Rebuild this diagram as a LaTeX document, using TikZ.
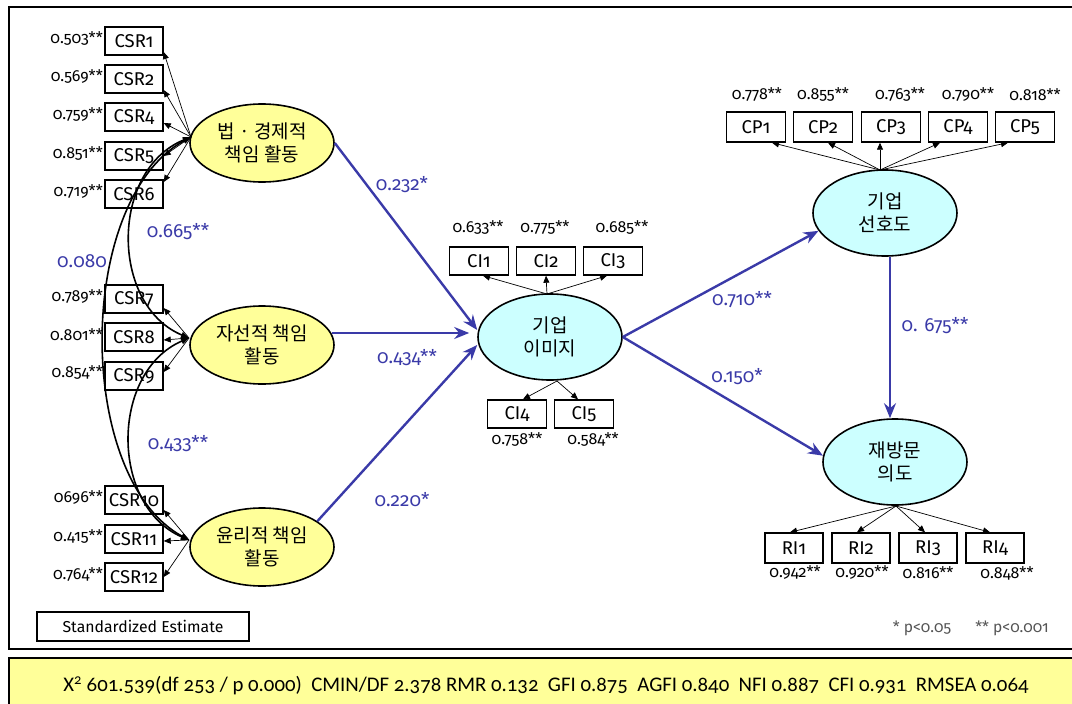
\documentclass[tikz,border=0pt]{standalone}
\usepackage{fontspec}
\setmainfont[Numbers=OldStyle]{Fira Sans}
\newfontfamily\kr{Noto Sans CJK KR}
\newfontfamily\barfont[Numbers=OldStyle]{Carlito}
\usetikzlibrary{shapes.geometric,arrows.meta,calc}
\definecolor{lyellow}{HTML}{FFFF99}
\definecolor{lcyan}{HTML}{CCFFFF}
\definecolor{pathblue}{HTML}{3A3AA8}
\definecolor{pgray}{HTML}{555555}
\begin{document}
\begin{tikzpicture}[x=1pt,y=-1pt,
  ind/.style={draw, line width=1.4pt, minimum width=58pt, minimum height=28pt, inner sep=0pt, font=\fontsize{18.5}{18.5}\selectfont},
  lat/.style={ellipse, draw, line width=1.6pt, minimum width=144pt, minimum height=78pt, inner sep=0pt, align=center, font=\kr\fontsize{19}{23}\selectfont},
  exo/.style={lat, fill=lyellow},
  endo/.style={lat, fill=lcyan, minimum height=86pt},
  ld/.style={font=\fontsize{16}{16}\selectfont, inner sep=0pt},
  bl/.style={font=\fontsize{19}{19}\selectfont, text=pathblue, inner sep=0pt},
  load/.style={-{Triangle[length=7pt,width=6pt]}, line width=0.7pt},
  cov/.style={{Triangle[length=8pt,width=6pt]}-{Triangle[length=8pt,width=6pt]}, line width=1.6pt},
  path/.style={-{Stealth[length=15pt,width=12pt,inset=5pt]}, line width=2.4pt, draw=pathblue}
]
\useasboundingbox (0,0) rectangle (1072,704);
% frame and bar
\draw[line width=2.2pt] (1090,7) -- (9,7) -- (9,649) -- (1090,649);
\fill[lyellow] (9,658) rectangle (1090,720);
\draw[line width=2pt] (9,720) -- (9,658) -- (1090,658);
\node[font=\barfont\fontsize{20.8}{21}\selectfont, inner sep=0pt] (fit) at (546,686) {X\textsuperscript{2} 601.539(df 253 / p 0.000)\ \ CMIN/DF 2.378 RMR 0.132\ \ GFI 0.875\ \ AGFI 0.840\ \ NFI 0.887\ \ CFI 0.931\ \ RMSEA 0.064};

% exogenous latents
\node[exo] (e1) at (262,143) {법 · 경제적\\책임 활동};
\node[exo] (e2) at (262,345) {자선적 책임\\활동};
\node[exo] (e3) at (262,547) {윤리적 책임\\활동};
\coordinate (e1p) at (191,137);
\coordinate (e2p) at (189,338);
\coordinate (e3p) at (189,540);

% CSR indicators
\node[ind] (c1) at (134,41) {CSR1};
\node[ind] (c2) at (134,79) {CSR2};
\node[ind] (c4) at (134,117) {CSR4};
\node[ind] (c5) at (134,156) {CSR5};
\node[ind] (c6) at (134,194) {CSR6};
\node[ind] (c7) at (134,299) {CSR7};
\node[ind] (c8) at (134,337) {CSR8};
\node[ind] (c9) at (134,376) {CSR9};
\node[ind] (c10) at (134,500) {CSR10};
\node[ind] (c11) at (134,539) {CSR11};
\node[ind] (c12) at (134,577) {CSR12};

\node[ld, anchor=east] (l1) at (103,39) {0.503**};
\node[ld, anchor=east] (l2) at (103,77) {0.569**};
\node[ld, anchor=east] (l4) at (103,115) {0.759**};
\node[ld, anchor=east] (l5) at (103,154) {0.851**};
\node[ld, anchor=east] (l6) at (103,192) {0.719**};
\node[ld, anchor=east] (l7) at (103,297) {0.789**};
\node[ld, anchor=east] (l8) at (103,335) {0.801**};
\node[ld, anchor=east] (l9) at (103,373) {0.854**};
\node[ld, anchor=east] (l10) at (103,498) {0696**};
\node[ld, anchor=east] (l11) at (103,537) {0.415**};
\node[ld, anchor=east] (l12) at (103,575) {0.764**};

\draw[load] (e1p) -- ([yshift=-11pt]c1.east);
\draw[load] (e1p) -- ([yshift=-11pt]c2.east);
\draw[load] (e1p) -- ([yshift=-6pt]c4.east);
\draw[load] (e1p) -- (c5.east);
\draw[load] (e1p) -- ([yshift=12pt]c6.east);
\draw[load] (e2p) -- ([yshift=-9pt]c7.east);
\draw[load] (e2p) -- ([yshift=-3pt]c8.east);
\draw[load] (e2p) -- ([yshift=4pt]c9.east);
\draw[load] (e3p) -- ([yshift=-10pt]c10.east);
\draw[load] (e3p) -- ([yshift=-2pt]c11.east);
\draw[load] (e3p) -- (c12.east);

% covariances
\draw[cov] (e1p) .. controls (110,170) and (110,305) .. (e2p);
\draw[cov] (e2p) .. controls (110,372) and (110,506) .. (e3p);
\draw[cov] (e1p) .. controls (75,200) and (75,478) .. (e3p);
\node[bl] (k12) at (178,232) {0.665**};
\node[bl] (k13) at (82,261) {0.080};
\node[bl] (k23) at (178,444) {0.433**};

% corporate image
\node[endo] (ci) at (550,337) {기업\\이미지};
\node[ind, minimum width=59pt] (ci1) at (479,261) {CI1};
\node[ind, minimum width=59pt] (ci2) at (546,261) {CI2};
\node[ind, minimum width=59pt] (ci3) at (613,261) {CI3};
\node[ind, minimum width=59pt] (ci4) at (517,414) {CI4};
\node[ind, minimum width=59pt] (ci5) at (584,414) {CI5};
\node[ld] (lci1) at (478,228) {0.633**};
\node[ld] (lci2) at (545,228) {0.775**};
\node[ld] (lci3) at (622,228) {0.685**};
\node[ld] (lci4) at (517,440) {0.758**};
\node[ld] (lci5) at (593,440) {0.584**};
\coordinate (cit) at (547,294);
\coordinate (cib) at (557,381);
\draw[load] (cit) -- ([xshift=4pt]ci1.south);
\draw[load] (cit) -- (ci2.south);
\draw[load] (cit) -- ([xshift=-6pt]ci3.south);
\draw[load] (cib) -- ([xshift=6pt]ci4.north);
\draw[load] (cib) -- ([xshift=-6pt]ci5.north);

% preference
\node[endo] (cp) at (885,213) {기업\\선호도};
\node[ind, minimum width=59pt, minimum height=30pt] (cp1) at (756,127) {CP1};
\node[ind, minimum width=59pt, minimum height=30pt] (cp2) at (823,127) {CP2};
\node[ind, minimum width=59pt, minimum height=30pt] (cp3) at (891,127) {CP3};
\node[ind, minimum width=59pt, minimum height=30pt] (cp4) at (958,127) {CP4};
\node[ind, minimum width=59pt, minimum height=30pt] (cp5) at (1025,127) {CP5};
\node[ld] (lcp1) at (757,95) {0.778**};
\node[ld] (lcp2) at (823,95) {0.855**};
\node[ld] (lcp3) at (900,95) {0.763**};
\node[ld] (lcp4) at (968,95) {0.790**};
\node[ld] (lcp5) at (1035,95) {0.818**};
\coordinate (cpt) at (880,170);
\draw[load] (cpt) -- ([xshift=16pt]cp1.south);
\draw[load] (cpt) -- ([xshift=5pt]cp2.south);
\draw[load] (cpt) -- ([xshift=-11pt]cp3.south);
\draw[load] (cpt) -- ([xshift=-18pt]cp4.south);
\draw[load] (cpt) -- ([xshift=-17pt]cp5.south);

% revisit
\node[endo] (ri) at (895,462) {재방문\\의도};
\node[ind, minimum height=30pt] (ri1) at (794,548) {RI1};
\node[ind, minimum height=30pt] (ri2) at (861,548) {RI2};
\node[ind, minimum height=30pt] (ri3) at (928,548) {RI3};
\node[ind, minimum height=30pt] (ri4) at (995,548) {RI4};
\node[ld] (lri1) at (795,573) {0.942**};
\node[ld] (lri2) at (862,573) {0.920**};
\node[ld] (lri3) at (928,573) {0.816**};
\node[ld] (lri4) at (1007,573) {0.848**};
\coordinate (rib) at (896,506);
\draw[load] (rib) -- ([xshift=-4pt]ri1.north);
\draw[load] (rib) -- ([xshift=-4pt]ri2.north);
\draw[load] (rib) -- ([xshift=-3pt]ri3.north);
\draw[load] (rib) -- ([xshift=-5pt]ri4.north);

% structural paths
\draw[path] (e1.east) -- ([yshift=7pt]ci.west);
\draw[path] ([xshift=-3pt,yshift=12pt]e2.east) -- ([xshift=-8pt,yshift=4pt]ci.west);
\draw[path] (e3.25) -- ([yshift=-8pt]ci.west);
\draw[path] (ci.east) -- (cp.195);
\draw[path] (ci.east) -- (ri.175);
\draw[path] ([xshift=5pt]cp.south) -- ([xshift=-5pt]ri.north);
\node[bl] (p1) at (402,185) {0.232*};
\node[bl] (p2) at (407,358) {0.434**};
\node[bl] (p3) at (402,500) {0.220*};
\node[bl] (p4) at (742,300) {0.710**};
\node[bl] (p5) at (737,377) {0.150*};
\node[bl] (p6) at (935,326) {0. 675**};

% legend
\node[draw, line width=2pt, minimum width=212pt, minimum height=29pt, inner sep=0pt, font=\fontsize{15.8}{16}\selectfont] (se) at (143,626) {Standardized Estimate};
\node[font=\fontsize{15.6}{16}\selectfont, text=pgray, inner sep=0pt] (s1) at (922,628) {* p<0.05};
\node[font=\fontsize{15.6}{16}\selectfont, text=pgray, inner sep=0pt] (s2) at (1012,628) {** p<0.001};
\end{tikzpicture}
\end{document}
